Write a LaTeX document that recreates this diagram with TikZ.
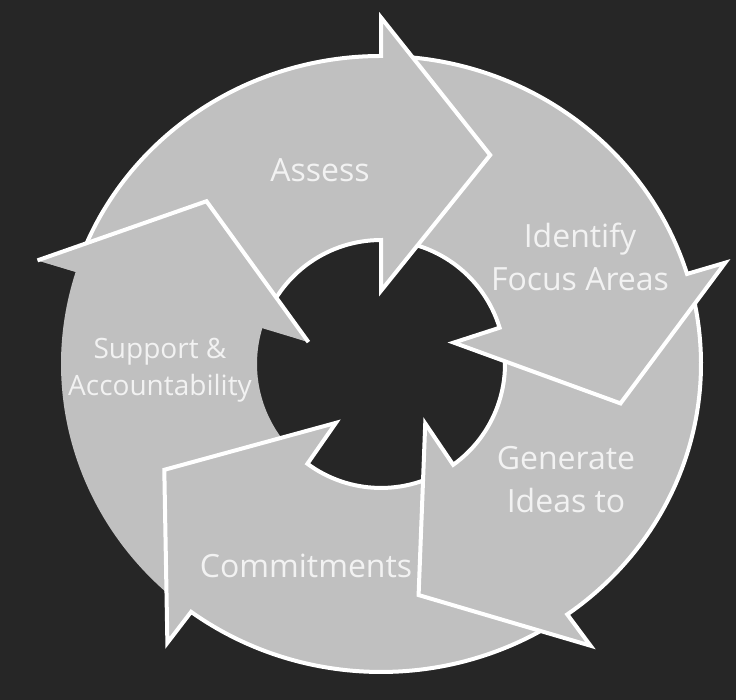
\documentclass[tikz,border=0pt]{standalone}
\usepackage{fontspec}
\setmainfont{Open Sans}
\definecolor{bgdark}{HTML}{262626}
\definecolor{arrowgrey}{HTML}{C0C0C0}
\definecolor{labelwhite}{HTML}{F2F2F2}
% arrow outline: #1 tail angle, #2 back angle of head
\newcommand\cyclearrow[2]{({#1}:320) arc[start angle={#1}, end angle={#2}, radius=320]
  -- ({#2}:360) -- ({#2-26.7}:243) -- ({#2}:76)
  -- ({#2}:124 and 128.8) arc[start angle={#2}, end angle={#1}, x radius=124, y radius=128.8] -- cycle}
\begin{document}
\begin{tikzpicture}[x=1pt,y=1pt,
  arrowshape/.style={fill=arrowgrey, draw=white, line width=4pt, line join=miter},
  arrowfill/.style={fill=arrowgrey},
  headedge/.style={draw=white, line width=4pt, line join=miter},
  lbltext/.style={text=labelwhite, font=\fontsize{32}{43}\selectfont, align=center, inner sep=0pt},
  lblsmall/.style={lbltext, font=\fontsize{28}{37}\selectfont}]
\fill[bgdark] (0,0) rectangle (736,700);
\useasboundingbox (0,0) rectangle (736,700);
\begin{scope}[shift={(381,336)}, yscale=0.9625]
  % Support & Accountability (fill only)
  \fill[arrowfill] \cyclearrow{231.1}{162.6};
  % Commitments
  \draw[arrowshape] \cyclearrow{-56.9}{-126.4};
  % Generate Ideas to
  \draw[arrowshape] \cyclearrow{14.5}{-54.4};
  % Identify Focus Areas
  \draw[arrowshape] \cyclearrow{87.5}{17};
  % Assess
  \draw[arrowshape] \cyclearrow{160.1}{90};
  % Support head on top of Assess tail
  \fill[arrowfill] (162.6:360) -- (135.9:243) -- (162.6:76) -- cycle;
  \draw[headedge] (162.6:360) -- (135.9:243) -- (162.6:76);
\end{scope}
\node[lbltext] (assess) at (320,530) {Assess};
\node[lbltext] (identify) at (580,443.5) {Identify\\Focus Areas};
\node[lbltext] (generate) at (566,220) {Generate\\Ideas to};
\node[lbltext] (commit) at (306,134) {Commitments};
\node[lblsmall] (support) at (160,330) {Support \&\\Accountability};
\end{tikzpicture}
\end{document}
